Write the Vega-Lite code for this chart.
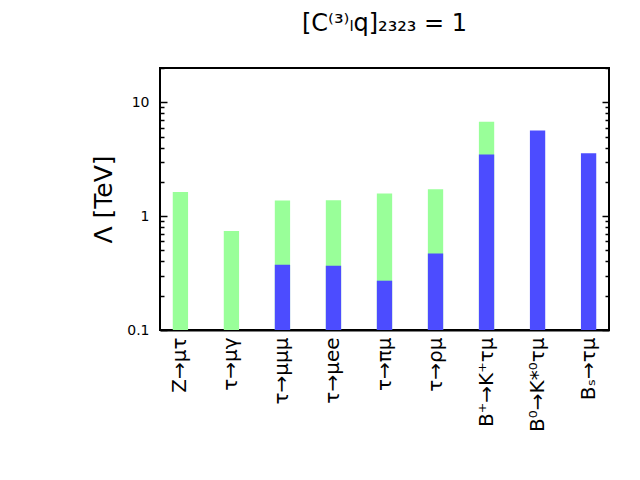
{
  "$schema": "https://vega.github.io/schema/vega-lite/v6.json",
  "width": 449,
  "height": 262,
  "autosize": {"type": "none"},
  "padding": {"left": 160, "top": 68, "right": 31, "bottom": 150},
  "title": {"text": "[C⁽³⁾ₗq]₂₃₂₃ = 1", "font": "DejaVu Sans", "fontSize": 24, "fontWeight": "normal", "color": "black", "offset": 25, "anchor": "middle"},
  "config": {"view": {"stroke": "black", "strokeWidth": 2}, "font": "DejaVu Sans"},
  "data": {"values": [
    {"process": "Z→μτ", "series": "total", "value": 1.63},
    {"process": "τ→μγ", "series": "total", "value": 0.74},
    {"process": "τ→μμμ", "series": "total", "value": 1.37},
    {"process": "τ→μμμ", "series": "part", "value": 0.375},
    {"process": "τ→μee", "series": "total", "value": 1.38},
    {"process": "τ→μee", "series": "part", "value": 0.367},
    {"process": "τ→πμ", "series": "total", "value": 1.58},
    {"process": "τ→πμ", "series": "part", "value": 0.271},
    {"process": "τ→ρμ", "series": "total", "value": 1.72},
    {"process": "τ→ρμ", "series": "part", "value": 0.469},
    {"process": "B⁺→K⁺τμ", "series": "total", "value": 6.73},
    {"process": "B⁺→K⁺τμ", "series": "part", "value": 3.47},
    {"process": "B⁰→K*⁰τμ", "series": "part", "value": 5.65},
    {"process": "Bₛ→τμ", "series": "part", "value": 3.57}
  ]},
  "resolve": {"axis": {"y": "independent"}},
  "layer": [
    {
      "mark": {"type": "bar"},
      "encoding": {
        "x": {"field": "process", "type": "nominal", "sort": null,
          "scale": {"paddingInner": 0.7, "paddingOuter": 0.25},
          "axis": {"title": null, "labelAngle": -90, "labelFontSize": 20, "labelColor": "black", "labelPadding": 7, "ticks": false, "domainColor": "black", "domainWidth": 2}},
        "y": {"field": "value", "type": "quantitative", "stack": null,
          "scale": {"type": "log", "domain": [0.1, 20], "nice": false},
          "axis": {"orient": "left", "title": "Λ [TeV]", "titleFontSize": 25, "titleFontWeight": "normal", "titleColor": "black", "titlePadding": 10,
            "values": [0.1,0.2,0.3,0.4,0.5,0.6,0.7,0.8,0.9,1,2,3,4,5,6,7,8,9,10,20],
            "labelExpr": "datum.value == 0.1 || datum.value == 1 || datum.value == 10 ? datum.label : ''",
            "labelOverlap": false, "labelFontSize": 14, "labelColor": "black", "labelPadding": 18,
            "tickSize": {"condition": {"test": "datum.value == 0.1 || datum.value == 1 || datum.value == 10", "value": -7}, "value": -4},
            "tickColor": "black", "tickWidth": 1.5, "domain": false, "grid": false}},
        "y2": {"datum": 0.1},
        "color": {"field": "series", "type": "nominal", "legend": null,
          "scale": {"domain": ["total", "part"], "range": ["#99ff99", "#4c4cff"]}}
      }
    },
    {
      "mark": {"type": "bar", "opacity": 0},
      "encoding": {
        "x": {"field": "process", "type": "nominal", "sort": null},
        "y": {"field": "value", "type": "quantitative", "stack": null,
          "axis": {"orient": "right", "title": null, "labels": false,
            "values": [0.1,0.2,0.3,0.4,0.5,0.6,0.7,0.8,0.9,1,2,3,4,5,6,7,8,9,10,20],
            "tickSize": {"condition": {"test": "datum.value == 0.1 || datum.value == 1 || datum.value == 10", "value": -7}, "value": -4},
            "tickColor": "black", "tickWidth": 1.5, "domain": false, "grid": false}},
        "y2": {"datum": 0.1}
      }
    }
  ]
}
